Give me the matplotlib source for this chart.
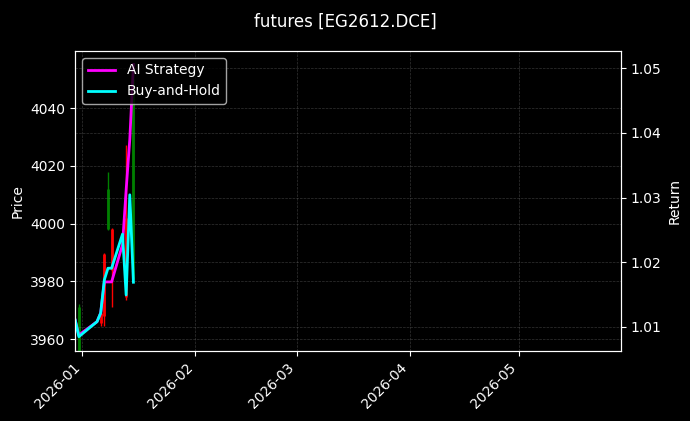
import matplotlib
matplotlib.use("Agg")
import matplotlib.pyplot as plt
import matplotlib.dates as mdates
import numpy as np
import pandas as pd

# trading days shown on the chart
dates = pd.to_datetime(["2025-12-30", "2025-12-31", "2026-01-05", "2026-01-06", "2026-01-07",
                        "2026-01-08", "2026-01-09", "2026-01-12", "2026-01-13", "2026-01-14",
                        "2026-01-15"])

# OHLC (nan = candle hidden / not visible)
opens = [np.nan, 3955.5, np.nan, 3969.0, 3989.5, 3998.0, 3998.0, np.nan, 4002.0, np.nan, 3981.0]
highs = [np.nan, 3972.2, np.nan, 3970.5, 3990.0, 4018.0, 3998.4, np.nan, 4027.3, np.nan, 4055.0]
lows = [np.nan, 3955.0, np.nan, 3964.5, 3964.5, 3997.8, 3971.3, np.nan, 3973.6, np.nan, 3980.0]
closes = [np.nan, 3971.0, np.nan, 3965.5, 3968.0, 4012.0, 3984.0, np.nan, 3974.5, np.nan, 4050.0]

ai_return = [1.0110, 1.00871, 1.01078, 1.01212, 1.01693, 1.01693, 1.01693, 1.0227, 1.0312, 1.0390, 1.0506]
bh_return = [1.0110, 1.00845, 1.01078, 1.01212, 1.01724, 1.01905, 1.01905, 1.02433, 1.01491, 1.03042, 1.01688]

plt.style.use("dark_background")
fig, ax = plt.subplots(figsize=(6.9, 4.21), dpi=100)
fig.subplots_adjust(left=0.109, right=0.9, top=0.879, bottom=0.167)

for d, o, h, l, c in zip(dates, opens, highs, lows, closes):
    if np.isnan(o):
        continue
    col = "green" if c >= o else "red"
    ax.vlines(d, l, h, color=col, linewidth=1)
    ax.vlines(d, min(o, c), max(o, c), color=col, linewidth=2)

ax.set_ylabel("Price")
ax.set_ylim(3956.05, 4059.8)
ax.set_xlim(pd.Timestamp("2025-12-30"), pd.Timestamp("2026-05-29"))
ax.grid(True, linestyle="--", linewidth=0.5, color="gray", alpha=0.4)

ax2 = ax.twinx()
ax2.plot(dates, ai_return, color="magenta", linewidth=2, label="AI Strategy")
ax2.plot(dates, bh_return, color="cyan", linewidth=2, label="Buy-and-Hold")
ax2.set_ylabel("Return")
ax2.set_ylim(1.00628, 1.0527)
ax2.grid(True, linestyle="--", linewidth=0.5, color="gray", alpha=0.4)
ax2.legend(loc="upper left")

ax.xaxis.set_major_locator(mdates.MonthLocator())
ax.xaxis.set_major_formatter(mdates.DateFormatter("%Y-%m"))
plt.setp(ax.get_xticklabels(), rotation=45, ha="right")

fig.suptitle("futures [EG2612.DCE]", fontsize=12, y=0.97)
fig.savefig("out.png")
